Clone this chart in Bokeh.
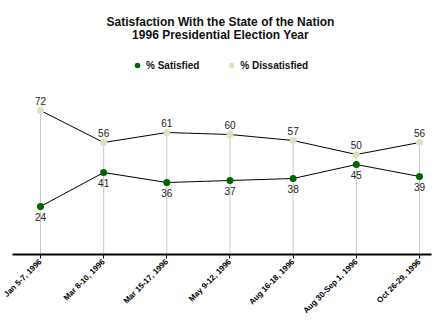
from bokeh.plotting import figure
from bokeh.models import (ColumnDataSource, Range1d, LabelSet, Label, Legend, LegendItem,
                          FixedTicker)
from bokeh.core.properties import value
from bokeh.embed import file_html
from bokeh.resources import INLINE
import math

categories = ["Jan 5-7, 1996", "Mar 8-10, 1996", "Mar 15-17, 1996", "May 9-12, 1996",
              "Aug 16-18, 1996", "Aug 30-Sep 1, 1996", "Oct 26-29, 1996"]
satisfied = [24, 41, 36, 37, 38, 45, 39]
dissatisfied = [72, 56, 61, 60, 57, 50, 56]

FONT = "Liberation Sans"
GREEN = "#006600"
BEIGE = "#e0e0c0"

idx = list(range(len(categories)))
src = ColumnDataSource(dict(
    x=idx, sat=satisfied, dis=dissatisfied, zero=[0] * len(idx),
    sat_t=[str(v) for v in satisfied], dis_t=[str(v) for v in dissatisfied],
))

p = figure(width=440, height=325, output_backend="svg", toolbar_location=None,
           x_range=Range1d(-0.443, 6.19), y_range=Range1d(0, 127),
           min_border_left=12, min_border_right=9, min_border_top=0, min_border_bottom=71)
p.outline_line_color = None
p.xgrid.visible = False
p.ygrid.visible = False
p.yaxis.visible = False
p.background_fill_color = "white"
p.border_fill_color = "white"

# drop lines
p.segment(x0="x", y0="zero", x1="x", y1="dis", source=src, line_color="#c8c8c8", line_width=1)

p.line("x", "dis", source=src, line_color="black", line_width=1)
p.line("x", "sat", source=src, line_color="black", line_width=1)
r_dis = p.scatter("x", "dis", source=src, size=7, fill_color=BEIGE, line_color=None)
r_sat = p.scatter("x", "sat", source=src, size=7, fill_color=GREEN, line_color=None)

p.add_layout(LabelSet(x="x", y="dis", text="dis_t", source=src, y_offset=10,
                      text_align="center", text_baseline="middle",
                      text_font=value(FONT), text_font_size="10px", text_color="#222222"))
p.add_layout(LabelSet(x="x", y="sat", text="sat_t", source=src, y_offset=-10,
                      text_align="center", text_baseline="middle",
                      text_font=value(FONT), text_font_size="10px", text_color="#222222"))

ax = p.xaxis[0]
ax.ticker = FixedTicker(ticks=idx)
ax.major_label_overrides = {i: c for i, c in zip(idx, categories)}
ax.major_label_orientation = math.pi / 4
ax.major_label_text_font = FONT
ax.major_label_text_font_style = "bold"
ax.major_label_text_font_size = "8px"
ax.major_label_text_color = "black"
ax.major_label_standoff = 2
ax.axis_line_width = 2
ax.axis_line_color = "black"
ax.major_tick_in = 0
ax.major_tick_out = 4
ax.major_tick_line_color = "black"
ax.minor_tick_line_color = None

for txt, yy in (("Satisfaction With the State of the Nation", 254 - 21),
                ("1996 Presidential Election Year", 254 - 34)):
    p.add_layout(Label(x=208, y=yy, x_units="screen", y_units="screen", text=txt,
                       text_align="center", text_baseline="middle",
                       text_font=FONT, text_font_style="bold", text_font_size="12px",
                       text_color="#111111"))

legend = Legend(items=[LegendItem(label="% Satisfied", renderers=[r_sat]),
                       LegendItem(label="% Dissatisfied", renderers=[r_dis])],
                location=(118, 182), orientation="horizontal",
                glyph_width=14, glyph_height=14, label_height=14, label_standoff=2,
                spacing=25, padding=0, margin=0,
                border_line_color=None, background_fill_alpha=0,
                label_text_font=FONT, label_text_font_style="bold",
                label_text_font_size="10px", label_text_color="#111111")
p.add_layout(legend, "center")

open("out.html", "w").write(file_html(p, INLINE))
